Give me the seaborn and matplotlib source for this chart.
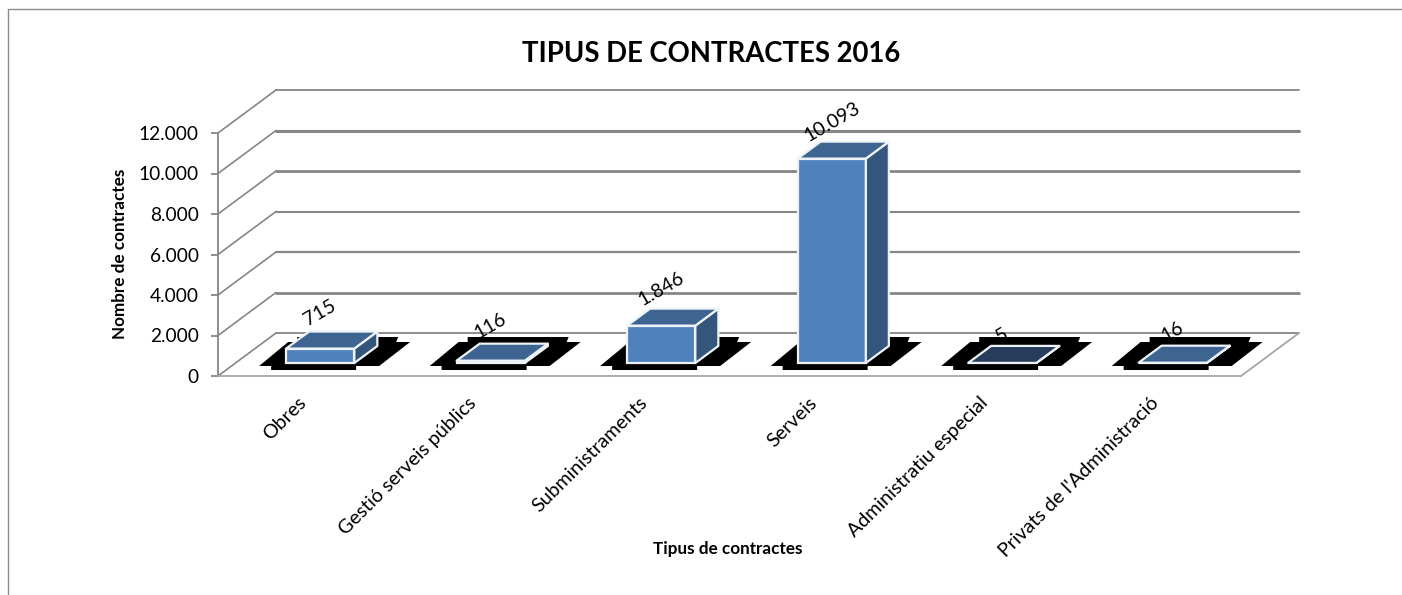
import matplotlib
matplotlib.use("Agg")
import matplotlib.pyplot as plt
from matplotlib.lines import Line2D
from matplotlib.patches import Polygon
from matplotlib.transforms import ScaledTranslation
import numpy as np
import pandas as pd
import seaborn as sns

categories = [
    "Obres",
    "Gestió serveis públics",
    "Subministraments",
    "Serveis",
    "Administratiu especial",
    "Privats de l'Administració",
]
values = [715, 116, 1846, 10093, 5, 16]
value_labels = ["715", "116", "1.846", "10.093", "5", "16"]
y_ticks = [0, 2000, 4000, 6000, 8000, 10000, 12000]
y_tick_labels = ["0", "2.000", "4.000", "6.000", "8.000", "10.000", "12.000"]

sns.set_style("white")
plt.rcParams["font.family"] = ["Lato", "DejaVu Sans"]

W, H = 1402, 595
GREY = "#868686"
FRONT = "#4f81bd"
TOPS = ["#3e6591", "#3e6591", "#3e6591", "#3e6591", "#263d5c", "#3e6591"]
SIDE = "#34557c"
EDGE = "#eef3f8"

fig = plt.figure(figsize=(W / 100, H / 100), dpi=100)
# front plane of the fake 3d box, in pixels of the original
left, right, bottom, top = 218, 1241, 376, 133
ax = fig.add_axes([left / W, 1 - bottom / H, (right - left) / W, (bottom - top) / H])

df = pd.DataFrame({"tipus": categories, "n": values})
sns.barplot(data=df, x="tipus", y="n", color=FRONT, width=0.4, saturation=1, ax=ax)
ax.set_xlim(-0.5, 5.5)
ax.set_ylim(0, 12000)

# pixel sizes of one data unit
px_x = (right - left) / 6
px_y = (bottom - top) / 12000


def shift(x, y, dx, dy):
    """data point moved by dx, dy pixels (dy goes up)"""
    return (x + dx / px_x, y + dy / px_y)


# walls and gridlines
wall_widths = [1.3, 2.0, 1.6, 1.5, 2.0, 2.2, 1.3]
for tick, lw in zip(y_ticks, wall_widths):
    a = (-0.5, tick)
    b = shift(-0.5, tick, 58, 43)
    c = shift(5.5, tick, 58, 43)
    ax.plot(*zip(a, b), color=GREY, lw=1.2, clip_on=False, zorder=1)
    ax.plot(*zip(b, c), color=GREY, lw=lw, clip_on=False, zorder=1)
ax.plot(*zip((5.5, 0), shift(5.5, 0, 58, 43)), color="#a6a6a6", lw=1.3, clip_on=False, zorder=1)

# label height above the bar top, in pixels
label_up = [36, 35, 37, 37, 28, 31]

# bars sit a bit inside the floor
for bar, top_col, lab, up in zip(ax.patches, TOPS, value_labels, label_up):
    bar.set_x(bar.get_x() + 17 / px_x)
    bar.set_y(13 / px_y)
    bar.set_edgecolor(EDGE)
    bar.set_linewidth(1.6)
    bar.set_zorder(4)
    x0 = bar.get_x()
    x1 = x0 + bar.get_width()
    y0 = bar.get_y()
    y1 = y0 + bar.get_height()

    # the black shadow blob around the foot of every bar
    blob = [
        (-27, -3), (2, 21), (11, 21), (11, 26), (112, 26), (110, 21), (124, 21),
        (93, -3), (70, -3), (70, -7), (-15, -7), (-15, -3),
    ]
    ax.add_patch(Polygon([shift(x0, y0, dx, dy) for dx, dy in blob], closed=True,
                         facecolor="black", edgecolor="none", clip_on=False, zorder=3))
    # top and side faces
    top_face = [(x0, y1), (x1, y1), shift(x1, y1, 23, 17), shift(x0, y1, 23, 17)]
    side_face = [(x1, y0), shift(x1, y0, 23, 17), shift(x1, y1, 23, 17), (x1, y1)]
    for face, col in [(side_face, SIDE), (top_face, top_col)]:
        ax.add_patch(Polygon(face, closed=True, facecolor=col, edgecolor=EDGE, lw=1.6,
                             clip_on=False, zorder=4, joinstyle="round"))
    cx = (x0 + x1) / 2
    ax.text(*shift(cx, y1, 0, up), lab, rotation=30, ha="center", va="center",
            fontsize=14, color="black", rotation_mode="anchor", zorder=2, clip_on=False)

ax.set_yticks(y_ticks)
ax.set_yticklabels(y_tick_labels, fontsize=13.8, color="black")
ax.set_xticks(np.arange(6))
ax.set_xticklabels(categories, rotation=45, ha="right", va="top", rotation_mode="anchor",
                   fontsize=14.1, color="black")
ax.tick_params(axis="y", length=5, width=1.3, color=GREY, left=True, pad=9)
ax.tick_params(axis="x", length=0, pad=13)
nudge = ScaledTranslation(-6 / 100, 0, fig.dpi_scale_trans)
for lbl in ax.get_xticklabels():
    lbl.set_transform(lbl.get_transform() + nudge)
sns.despine(ax=ax, top=True, right=True)
ax.spines["left"].set_color(GREY)
ax.spines["left"].set_linewidth(1.3)
ax.spines["bottom"].set_color("#a6a6a6")
ax.spines["bottom"].set_linewidth(1.3)
ax.set_xlabel("")
ax.set_ylabel("")
ax.patch.set_alpha(0)

fig.text(711 / W, 1 - 54 / H, "TIPUS DE CONTRACTES 2016", fontsize=19.8, fontweight="bold",
         color="black", ha="center", va="center")
fig.text(728 / W, 1 - 549 / H, "Tipus de contractes", fontsize=12.3, fontweight="bold",
         color="black", ha="center", va="center")
fig.text(120 / W, 1 - 254 / H, "Nombre de contractes", fontsize=12.3, fontweight="bold",
         color="black", rotation=90, ha="center", va="center")

# chart frame
fig.add_artist(Line2D([8 / W, 8 / W, 1], [0, 1 - 9 / H, 1 - 9 / H], color="#8c8c8c", lw=1))

fig.savefig("out.png", dpi=100)
